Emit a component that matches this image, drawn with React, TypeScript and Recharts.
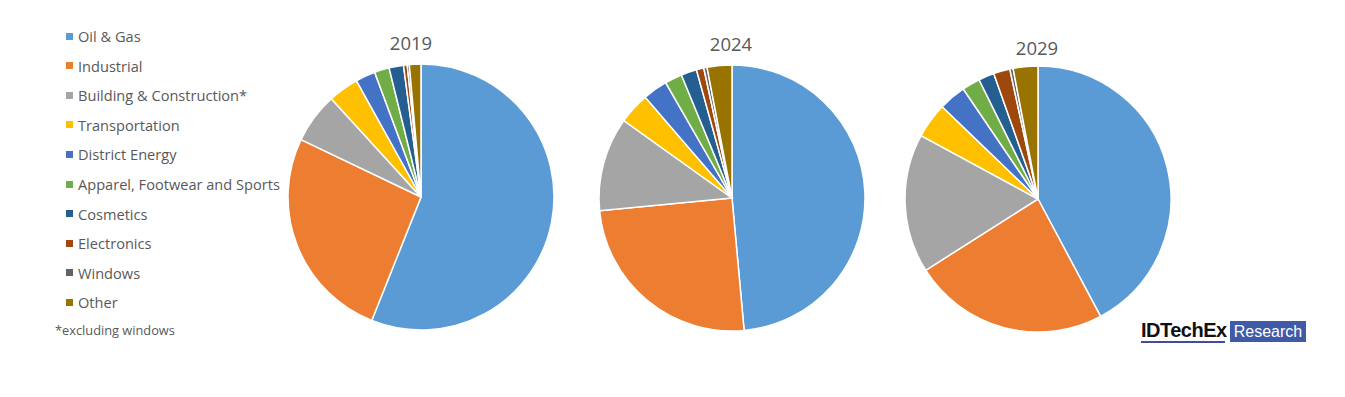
import React from "react";
import { PieChart, Pie, Cell } from "recharts";

const categories = [
  "Oil & Gas",
  "Industrial",
  "Building & Construction*",
  "Transportation",
  "District Energy",
  "Apparel, Footwear and Sports",
  "Cosmetics",
  "Electronics",
  "Windows",
  "Other",
];
const values2019 = [55.9, 26.0, 6.1, 3.7, 2.4, 1.8, 1.75, 0.45, 0.25, 1.4];
const values2024 = [48.5, 24.9, 11.4, 3.8, 3.0, 2.1, 1.9, 0.9, 0.4, 3.0];
const values2029 = [42.2, 23.8, 16.9, 4.3, 3.3, 2.2, 1.9, 2.0, 0.4, 3.0];
const years = ["2019", "2024", "2029"];
const colors = [
  "#5B9BD5",
  "#ED7D31",
  "#A5A5A5",
  "#FFC000",
  "#4472C4",
  "#70AD47",
  "#255E91",
  "#9E480E",
  "#636363",
  "#997300",
];
const footnote = "*excluding windows";

const W = 1345;
const H = 397;
const FONT = "'Open Sans', sans-serif";

const toData = (vals: number[]) =>
  categories.map((name, i) => ({ name, value: vals[i] }));

const pies = [
  { year: years[0], data: toData(values2019), cx: 421, cy: 197, titleX: 411, titleY: 43 },
  { year: years[1], data: toData(values2024), cx: 732, cy: 198, titleX: 731, titleY: 44 },
  { year: years[2], data: toData(values2029), cx: 1038, cy: 199, titleX: 1037, titleY: 48 },
];

export default function App() {
  return (
    <div
      style={{
        position: "absolute",
        left: 0,
        top: 0,
        width: W,
        height: H,
        background: "#ffffff",
        fontFamily: FONT,
      }}
    >
      <PieChart width={W} height={H} margin={{ top: 0, right: 0, bottom: 0, left: 0 }}>
        {pies.map((p) => (
          <Pie
            key={p.year}
            data={p.data}
            dataKey="value"
            nameKey="name"
            cx={p.cx}
            cy={p.cy}
            outerRadius={133}
            startAngle={90}
            endAngle={-270}
            stroke="#ffffff"
            strokeWidth={1.5}
            isAnimationActive={false}
            labelLine={false}
          >
            {p.data.map((d, i) => (
              <Cell key={d.name} fill={colors[i]} />
            ))}
          </Pie>
        ))}
      </PieChart>

      {pies.map((p) => (
        <div
          key={"t" + p.year}
          style={{
            position: "absolute",
            left: p.titleX - 60,
            width: 120,
            top: p.titleY - 13,
            textAlign: "center",
            fontSize: 18.5,
            color: "#595959",
            lineHeight: "26px",
          }}
        >
          {p.year}
        </div>
      ))}

      {categories.map((c, i) => (
        <div
          key={c}
          style={{
            position: "absolute",
            left: 66,
            top: 36 + i * 29.6 - 10,
            height: 20,
            display: "flex",
            alignItems: "center",
            fontSize: 14.6,
            color: "#595959",
            whiteSpace: "nowrap",
          }}
        >
          <span
            style={{
              display: "inline-block",
              width: 7,
              height: 7,
              background: colors[i],
              marginRight: 5,
            }}
          />
          {c}
        </div>
      ))}

      <div
        style={{
          position: "absolute",
          left: 55,
          top: 321,
          fontSize: 12.8,
          color: "#595959",
          whiteSpace: "nowrap",
          lineHeight: "18px",
        }}
      >
        {footnote}
      </div>

      <div
        style={{
          position: "absolute",
          left: 1141,
          top: 320,
          fontFamily: "'Liberation Sans', Arial, sans-serif",
          fontWeight: 700,
          fontSize: 20,
          color: "#111111",
          lineHeight: "21px",
          letterSpacing: -0.5,
          whiteSpace: "nowrap",
        }}
      >
        IDTechEx
      </div>
      <div
        style={{
          position: "absolute",
          left: 1141,
          top: 341,
          width: 84,
          height: 2,
          background: "#3F4E9A",
        }}
      />
      <div
        style={{
          position: "absolute",
          left: 1230,
          top: 321,
          width: 76,
          height: 21,
          background: "#3F5AA6",
          color: "#ffffff",
          fontFamily: "'Liberation Sans', Arial, sans-serif",
          fontSize: 16,
          textAlign: "center",
          lineHeight: "21px",
        }}
      >
        Research
      </div>
    </div>
  );
}
